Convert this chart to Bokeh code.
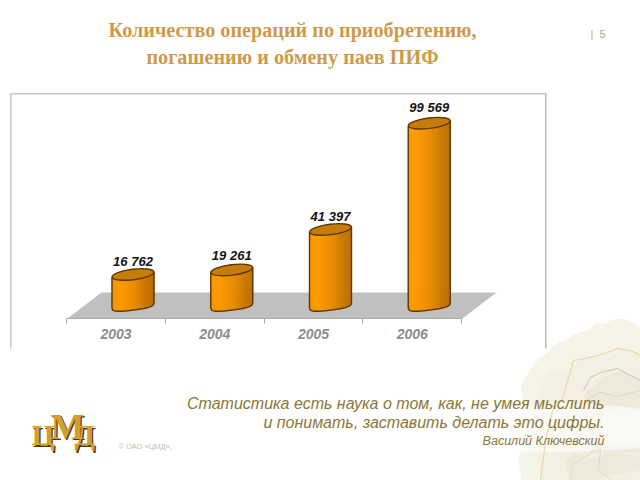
from bokeh.plotting import figure
from bokeh.models import (Range1d, LinearAxis, FixedTicker, Label, PolyAnnotation, BoxAnnotation)
from bokeh.core.properties import value
from bokeh.embed import file_html
from bokeh.resources import INLINE
import math

years = [2003, 2004, 2005, 2006]
operations = [16762, 19261, 41397, 99569]
value_labels = ["16 762", "19 261", "41 397", "99 569"]
title_lines = ["Количество операций по приобретению,", "погашению и обмену паев ПИФ"]
quote_lines = ["Статистика есть наука о том, как, не умея мыслить", "и понимать, заставить делать это цифры."]
quote_author = "Василий Ключевский"
copyright_text = "© ОАО «ЦМД»,"

W, H = 640, 480
PX_PER_YEAR = 98.75
PX_2003 = 115.5
PX_PER_VALUE = 0.001827
BASE_PY = 304.6
AXIS_PY = 318.0
LABEL_OFFSETS = [-12.5, -14.5, -13, -15.5]
def to_x(px): return 2003 + (px - PX_2003) / PX_PER_YEAR
def to_y(py): return (BASE_PY - py) / PX_PER_VALUE

p = figure(width=W, height=H, output_backend="svg", toolbar_location=None,
           x_range=Range1d(to_x(0), to_x(W)),
           y_range=Range1d(to_y(H), to_y(0)),
           x_axis_type=None, y_axis_type=None,
           min_border_left=0, min_border_right=0, min_border_top=0, min_border_bottom=0)
p.outline_line_color = None
p.grid.visible = False
p.background_fill_color = "white"
p.border_fill_color = "white"

def poly(xs, ys, fill, alpha=1.0, level="underlay"):
    p.add_layout(PolyAnnotation(xs=list(xs), ys=list(ys), xs_units="canvas", ys_units="canvas",
                                fill_color=fill, fill_alpha=alpha, line_color=None, level=level))

def curve(xs, ys, color, lw=0.8, alpha=1.0):
    p.line(x=[to_x(v) for v in xs], y=[to_y(v) for v in ys], line_color=color, line_width=lw,
           line_alpha=alpha, level="glyph")

def box(l, r, t, b, color, alpha=1.0, level="underlay"):
    p.add_layout(BoxAnnotation(left=l, right=r, top=t, bottom=b,
                               left_units="canvas", right_units="canvas", top_units="canvas", bottom_units="canvas",
                               fill_color=color, fill_alpha=alpha, line_color=None, level=level))

def text(x, y, s, size, color, font="Liberation Sans", style="normal", align="left", baseline="middle", level="annotation"):
    p.add_layout(Label(x=x, y=y, x_units="canvas", y_units="canvas", text=s,
                       text_font=font, text_font_size=f"{size}px", text_font_style=style,
                       text_color=color, text_align=align, text_baseline=baseline, level=level))

# decorative background, bottom-right
poly([640,632,626,618,610,602,596,590,584,574,566,560,552,546,535,528,520,523,519,522,518,521,640],
     [327,322,319,318,320,323,322,327,331,333,340,341,346,353,362,372,385,400,420,440,460,480,480], "#F6F3E9")
poly([640,622,606,590,575,565,552,545,540,536,535,538,540,640],
     [352,350,357,355,362,372,368,376,390,410,435,455,480,480], "#F3EFE3")
poly([640,620,605,590,584,592,590,640],
     [378,370,376,388,395,420,452,452], "#ECE7D8", 0.8)
poly([640,610,560,500,440,400,440,500,560,640],
     [408,405,402,408,415,430,448,452,452,448], "#FFFFFF", 0.6)
poly([640,620,604,598,608,640],[410,407,412,430,444,445],"#FBF9F3",0.9)
poly([640,612,590,572,565,570,590,612,640],[456,452,458,452,462,480,480,475,470],"#ECE7D8",0.7)
curve([540,545,552,562,573,585,597,607,617,630,640],[480,440,410,398,360,358,355,352,348,350,355],"#E8D59C",1.0)
curve([583,590,600,617,628,640],[390,377,372,368,374,380],"#C6BEA6",0.8)
curve([586,600,616,640],[400,392,396,390],"#D8D1BA",0.7)
curve([570,572,590,600,598,612],[480,465,452,448,470,480],"#DCD4BC",0.7)

# chart panel edges
box(9.5, 11, 93, 348, "#C8C8C8")
box(10, 546, 92.5, 94, "#C8C8C8")
box(544.5, 546, 93, 348, "#B8B8B8")

# floor
poly([67, 462, 496, 101], [318, 318, 292, 292], "#C0C0C0")

# cylinders
HALF_W_PX = 21.0
HALF_H_PX = 5.0
TILT_PX = 2.6
BAR_SHIFT = 17.0 / PX_PER_YEAR
STRIPS = 42
GRADIENT = [(0.0, (250, 150, 0)), (0.2, (255, 153, 0)), (0.55, (232, 140, 0)), (0.8, (202, 120, 0)), (1.0, (186, 110, 0))]

def shade(t):
    for (a, ca), (b, cb) in zip(GRADIENT, GRADIENT[1:]):
        if t <= b:
            f = (t - a) / (b - a)
            return "#%02x%02x%02x" % tuple(round(u + (v - u) * f) for u, v in zip(ca, cb))
    return "#ba6e00"

def bottom_edge(u):
    return -u * TILT_PX + HALF_H_PX * max(0.0, 1 - abs(u) ** 3) ** (1 / 3)

xs_per_px = 1.0 / PX_PER_YEAR
left, right, top, bottom, colors = [], [], [], [], []
edge_xs, edge_ys = [], []
for yr, val in zip(years, operations):
    c = yr + BAR_SHIFT
    lx, ly = [], []
    for i in range(STRIPS):
        t0 = i / STRIPS
        t1 = (i + 1) / STRIPS
        tm = (t0 + t1) / 2
        u = 2 * tm - 1
        left.append(c + (2 * t0 - 1) * HALF_W_PX * xs_per_px)
        right.append(c + (2 * t1 - 1) * HALF_W_PX * xs_per_px)
        top.append(val + u * TILT_PX / PX_PER_VALUE)
        bottom.append(-bottom_edge(u) / PX_PER_VALUE)
        colors.append(shade(tm))
    lx.append(c - HALF_W_PX * xs_per_px); ly.append(val - TILT_PX / PX_PER_VALUE)
    for i in range(0, 61):
        u = -1 + i / 30
        lx.append(c + u * HALF_W_PX * xs_per_px)
        ly.append(-bottom_edge(u) / PX_PER_VALUE)
    lx.append(c + HALF_W_PX * xs_per_px); ly.append(val + TILT_PX / PX_PER_VALUE)
    edge_xs.append(lx); edge_ys.append(ly)

p.quad(left=left, right=right, top=top, bottom=bottom, fill_color=colors, line_color=colors, line_width=0.8)
p.multi_line(xs=edge_xs, ys=edge_ys, line_color="#5E3600", line_width=1.4)
centers = [y + BAR_SHIFT for y in years]
p.ellipse(x=centers, y=operations, width=2 * HALF_W_PX, height=2 * HALF_H_PX + 0.5,
          width_units="screen", height_units="screen", angle=math.atan2(TILT_PX, HALF_W_PX),
          fill_color="#C67C08", line_color="#5E3600", line_width=1.4)
p.text(x=centers, y=operations, text=value_labels, y_offset=LABEL_OFFSETS, text_align="center", text_baseline="middle",
       text_font=value("Liberation Sans"), text_font_size="13px", text_font_style="bold italic", text_color="#141414")

# axis
ax = LinearAxis(ticker=FixedTicker(ticks=years, minor_ticks=[2002.5, 2003.5, 2004.5, 2005.5, 2006.5]))
ax.fixed_location = to_y(AXIS_PY)
ax.bounds = (2002.5, 2006.5)
ax.axis_line_color = "#A8A8A8"
ax.axis_line_width = 1
ax.major_tick_line_color = None
ax.major_tick_out = 0
ax.major_tick_in = 0
ax.minor_tick_line_color = "#A8A8A8"
ax.minor_tick_out = 5
ax.minor_tick_in = 0
ax.major_label_standoff = 5
ax.major_label_text_font = "Liberation Sans"
ax.major_label_text_font_size = "14px"
ax.major_label_text_font_style = "bold italic"
ax.major_label_text_color = "#8C8C8C"
ax.formatter.use_scientific = False
ax.formatter.precision = 0
p.add_layout(ax, "below")

# page texts
text(292, 29.5, title_lines[0], 20.2, "#CE9A48", font="Liberation Serif", style="bold", align="center")
text(292, 56.5, title_lines[1], 20.2, "#CE9A48", font="Liberation Serif", style="bold", align="center")
text(590, 33, "|", 11, "#B9A983")
text(599, 33, "5", 11, "#B9A983")
text(604, 403, quote_lines[0], 16, "#8B7737", style="italic", align="right")
text(604, 421.7, quote_lines[1], 16, "#8B7737", style="italic", align="right")
text(604, 440, quote_author, 12.5, "#8B7737", style="italic", align="right")
text(118, 446, copyright_text, 7.5, "#BDBDBD")

# logo
for dx, dy, col in [(1.2, 1.5, "#4A3413"), (0, 0, "#D49E2E")]:
    text(31 + dx, 434 + dy, "Ц", 30, col, font="Liberation Serif", style="bold")
    text(50 + dx, 426 + dy, "М", 36, col, font="Liberation Serif", style="bold")
    text(74 + dx, 434 + dy, "Д", 30, col, font="Liberation Serif", style="bold")

open("out.html", "w").write(file_html(p, INLINE))
